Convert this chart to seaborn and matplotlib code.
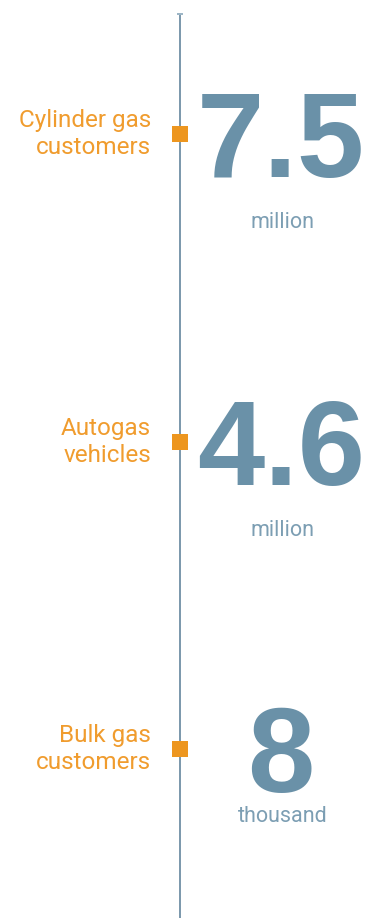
import matplotlib
matplotlib.use("Agg")
import matplotlib.pyplot as plt
import seaborn as sns
import pandas as pd

# figures shown on the timeline
labels = ["Cylinder gas\ncustomers", "Autogas\nvehicles", "Bulk gas\ncustomers"]
values = ["7.5", "4.6", "8"]
units = ["million", "million", "thousand"]

orange = "#ED961F"
label_orange = "#F09C2E"
blue = "#6A91A8"
unit_blue = "#7C9EB3"
line_blue = "#6F8FA5"

df = pd.DataFrame({"label": labels, "value": values, "unit": units, "x": [0] * len(labels)})

sns.set_style("white")
plt.rcParams["font.family"] = ["Liberation Sans", "DejaVu Sans"]

W, H, DPI = 371, 918, 100
px = 72 / DPI  # one pixel in points
unit_gap = [94, 94, 73]  # px below the marker (the single digit sits closer)

fig = plt.figure(figsize=(W / DPI, H / DPI), dpi=DPI)
ax = fig.add_axes([0, 0, 1, 1])

sns.scatterplot(data=df, x="x", y="label", marker="s", s=(16 * px) ** 2,
                color=orange, linewidth=0, ax=ax, zorder=3)

# axis scaling: first item 134px from top, last item 749px from top
step = (749 - 134) / 2
ax.set_ylim((H - 134) / step, -134 / step)
ax.set_xlim(-180, W - 180)

# vertical timeline with small cap at the top
ax.axvline(0, ymin=0, ymax=1 - 14 / H, color=line_blue, lw=1.3, zorder=1)
ax.plot([0], [1 - 14 / H], marker="_", markersize=6 * px, mew=2 * px,
        color="#9DB6C6", transform=ax.get_xaxis_transform(), zorder=2)

thin = ["Roboto", "Liberation Sans", "DejaVu Sans"]
for i, row in df.iterrows():
    ax.annotate(row["label"], xy=(0, i), xytext=(-29 * px, -20 * px),
                textcoords="offset points", ha="right", va="baseline",
                multialignment="right", fontsize=17.5, color=label_orange,
                linespacing=1.2, family=thin)
    ax.annotate(row["value"], xy=(0, i), xytext=(101 * px, -43 * px),
                textcoords="offset points", ha="center", va="baseline",
                fontsize=87, fontweight="bold", color=blue)
    ax.annotate(row["unit"], xy=(0, i), xytext=(103 * px, -unit_gap[i] * px),
                textcoords="offset points", ha="center", va="baseline",
                fontsize=15.5, color=unit_blue, family=thin)

ax.set_axis_off()
fig.savefig("out.png", dpi=DPI)
